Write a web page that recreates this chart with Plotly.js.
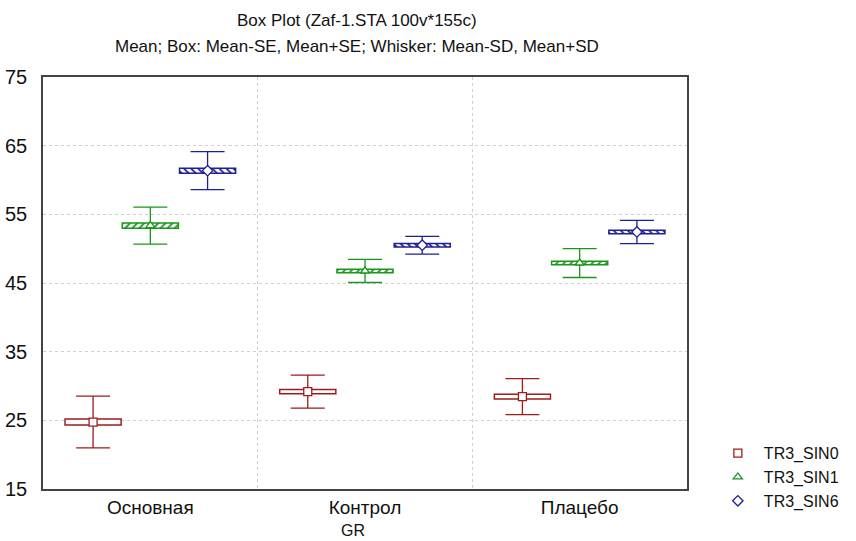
<!DOCTYPE html>
<html>
<head>
<meta charset="utf-8">
<script src="https://cdn.plot.ly/plotly-3.0.1.min.js"></script>
<style>html,body{margin:0;padding:0;background:#fff}#chart{width:856px;height:541px}</style>
</head>
<body>
<div id="chart"></div>
<script>
const groups = ["Основная", "Контрол", "Плацебо"];
const seriesNames = ["TR3_SIN0", "TR3_SIN1", "TR3_SIN6"];
// Means
const meanSIN0 = [24.75, 29.18, 28.45];
const meanSIN1 = [53.35, 46.75, 47.91];
const meanSIN6 = [61.36, 50.50, 52.43];
// Standard errors
const seSIN0 = [0.44, 0.32, 0.36];
const seSIN1 = [0.38, 0.25, 0.25];
const seSIN6 = [0.36, 0.25, 0.25];
// Standard deviations
const sdSIN0 = [3.77, 2.40, 2.62];
const sdSIN1 = [2.70, 1.68, 2.11];
const sdSIN6 = [2.77, 1.30, 1.70];

const means = [meanSIN0, meanSIN1, meanSIN6];
const ses = [seSIN0, seSIN1, seSIN6];
const sds = [sdSIN0, sdSIN1, sdSIN6];
const colors = ["#9e1c1c", "#1a961a", "#1f1f96"];
const symbols = ["square", "triangle-up", "diamond"];
const patterns = ["", "/", "\\"];

const traces = [];
for (let i = 0; i < 3; i++) {
  traces.push({
    type: "bar", x: groups,
    base: means[i].map((m, k) => m - ses[i][k]),
    y: ses[i].map(s => 2 * s),
    marker: {color: "white", line: {color: colors[i], width: 1.5},
             pattern: {shape: patterns[i], fgcolor: colors[i], size: 5, solidity: 0.35}},
    showlegend: false, hoverinfo: "skip"
  });
}
for (let i = 0; i < 3; i++) {
  traces.push({
    type: "scatter", mode: "markers", x: groups, y: means[i], name: seriesNames[i],
    marker: {symbol: symbols[i], size: 8, color: "white", line: {color: colors[i], width: 1.3}},
    error_y: {type: "data", array: sds[i], visible: true, width: 17, thickness: 1.3, color: colors[i]}
  });
}

const layout = {
  width: 856, height: 541,
  margin: {l: 43, r: 166, t: 77, b: 52},
  paper_bgcolor: "white", plot_bgcolor: "white",
  font: {family: "Liberation Sans, Arial, sans-serif", color: "#111"},
  barmode: "group", bargap: 0.2, bargroupgap: 0.02,
  scattermode: "group", scattergap: 0.2,
  showlegend: true,
  legend: {x: 1.0386, xanchor: "left", y: 0.128, yanchor: "top", font: {size: 16, color: "#111"},
           tracegroupgap: 0, itemwidth: 42, bgcolor: "rgba(0,0,0,0)"},
  xaxis: {
    type: "category", tickson: "boundaries", showgrid: true, gridcolor: "#cfcfcf", griddash: "dot",
    showline: true, linecolor: "#444", linewidth: 1.5, mirror: true, ticks: "",
    tickfont: {size: 19}, zeroline: false
  },
  yaxis: {
    range: [15, 75], dtick: 10, tick0: 15, showgrid: true, gridcolor: "#cfcfcf", griddash: "dot",
    showline: true, linecolor: "#444", linewidth: 1.5, mirror: true, ticks: "",
    tickfont: {size: 20}, zeroline: false, ticklabelstandoff: 10
  },
  annotations: [
    {text: "Box Plot (Zaf-1.STA 100v*155c)", xref: "paper", yref: "paper", x: 0.488, y: 1.138,
     xanchor: "center", yanchor: "middle", showarrow: false, font: {size: 17}},
    {text: "Mean; Box: Mean-SE, Mean+SE; Whisker: Mean-SD, Mean+SD", xref: "paper", yref: "paper", x: 0.488, y: 1.075,
     xanchor: "center", yanchor: "middle", showarrow: false, font: {size: 17}},
    {text: "GR", xref: "paper", yref: "paper", x: 0.482, y: -0.1,
     xanchor: "center", yanchor: "middle", showarrow: false, font: {size: 16}}
  ]
};
Plotly.newPlot("chart", traces, layout, {displayModeBar: false});
</script>
</body>
</html>
